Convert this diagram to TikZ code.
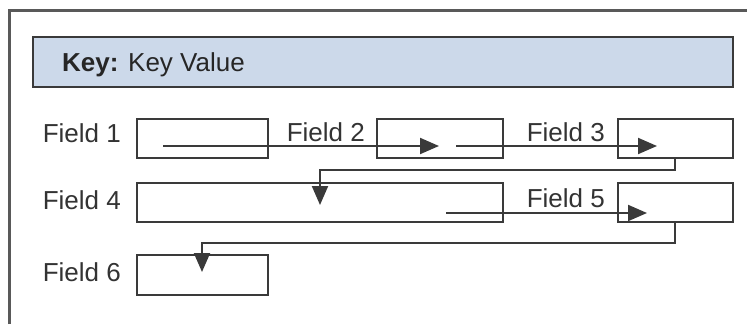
\documentclass[tikz,border=0pt]{standalone}
\usepackage{fontspec}
\setmainfont{Liberation Sans}
\usetikzlibrary{arrows.meta}
\definecolor{lineg}{HTML}{3A3A3A}
\definecolor{keyfill}{HTML}{CCD9EA}
\begin{document}
\begin{tikzpicture}[x=1pt,y=-1pt,
  fieldbox/.style={draw=lineg,line width=2pt,fill=white,minimum height=39pt,inner sep=0pt,outer sep=0pt},
  flabel/.style={font=\fontsize{26}{30}\selectfont,text=black!80,anchor=base east,inner sep=0pt},
  conn/.style={draw=lineg,line width=2pt,-{Triangle[length=19pt,width=16pt]}}]
\useasboundingbox (0,0) rectangle (747,324);
\fill[white] (0,0) rectangle (747,324);
% frame
\draw[black!65,line width=3pt] (9,324) -- (9,10) -- (747,10);
% key bar
\node[draw=lineg,line width=2pt,fill=keyfill,minimum width=700pt,minimum height=50pt,inner sep=0pt] (key) at (383,62) {};
\node[font=\fontsize{26}{30}\selectfont,text=black!85,anchor=base west,inner sep=0pt] (keytext) at (62,71) {\textbf{Key:} Key Value};
% boxes
\node[fieldbox,minimum width=131pt] (b1) at (202.5,138.5) {};
\node[fieldbox,minimum width=126pt] (b2) at (440,138.5) {};
\node[fieldbox,minimum width=115pt] (b3) at (675.5,138.5) {};
\node[fieldbox,minimum width=366pt] (b4) at (320,202.5) {};
\node[fieldbox,minimum width=115pt] (b5) at (675.5,202.5) {};
\node[fieldbox,minimum width=131pt,minimum height=40pt] (b6) at (202.5,275) {};
% labels
\node[flabel] (l1) at (121,142) {Field 1};
\node[flabel] (l2) at (365,141) {Field 2};
\node[flabel] (l3) at (605,141) {Field 3};
\node[flabel] (l4) at (121,209) {Field 4};
\node[flabel] (l5) at (605,207) {Field 5};
\node[flabel] (l6) at (121,281) {Field 6};
% connector coordinates
\coordinate (s1) at (163,146);
\coordinate (t1) at (439,146);
\coordinate (s2) at (456,146);
\coordinate (t2) at (657,146);
\coordinate (t3) at (320,205);
\coordinate (s5) at (446,213);
\coordinate (t5) at (647,213);
\coordinate (t6) at (202,272);
% connectors
\draw[conn] (s1) -- (t1);
\draw[conn] (s2) -- (t2);
\draw[conn] (b3.south -| 675,0) -- (675,170) -| (t3);
\draw[conn] (s5) -- (t5);
\draw[conn] (b5.south -| 675,0) -- (675,243) -| (t6);
\end{tikzpicture}
\end{document}
